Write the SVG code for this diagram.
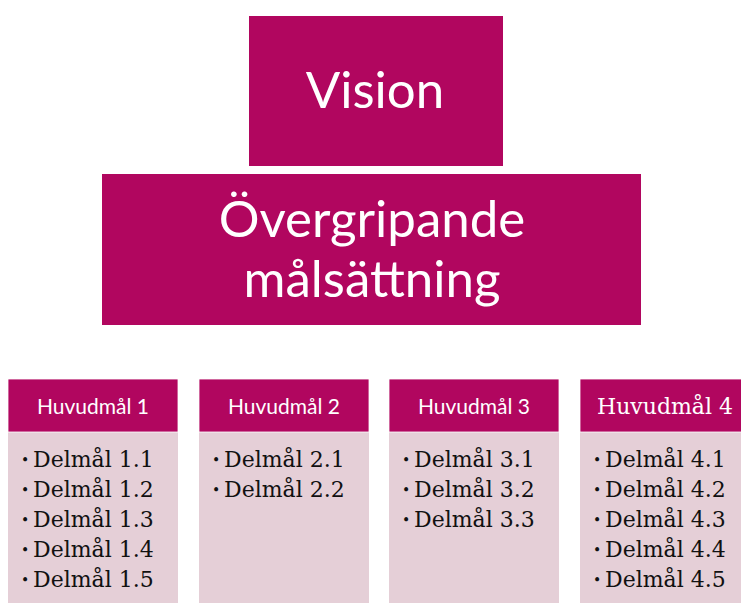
<svg xmlns="http://www.w3.org/2000/svg" width="741" height="603" viewBox="0 0 741 603">
<style>
.top{fill:#B1065F}
.hd{fill:#B1065F;stroke:#ffffff;stroke-width:0.8}
.bd{fill:#E5CFD7}
.big{font-family:Lato,"Open Sans",sans-serif;font-size:51px;fill:#ffffff;text-anchor:middle}
.ht{font-family:Lato,"Open Sans",sans-serif;font-size:21px;fill:#ffffff;text-anchor:middle}
.hs{font-family:"DejaVu Serif",serif;font-size:22px;fill:#ffffff;text-anchor:middle}
.it{font-family:"DejaVu Serif",serif;font-size:22px;fill:#111111}
.bu{font-family:"DejaVu Serif",serif;font-size:14px;fill:#111111}
</style>
<rect width="741" height="603" fill="#ffffff"/>
<g id="vision">
<rect class="top" x="249" y="16" width="254" height="150"/>
<text class="big" x="375" y="108">Vision</text>
</g>
<g id="overgripande">
<rect class="top" x="102" y="174" width="539" height="151"/>
<text class="big" x="372" y="237">Övergripande</text>
<text class="big" x="372" y="297">målsättning</text>
</g>
<g id="connectors"></g>
<g id="huvudmal1">
<rect class="bd" x="8" y="432" width="170" height="171"/>
<rect class="hd" x="8" y="379" width="170" height="53"/>
<text class="ht" x="93" y="414">Huvudmål 1</text>
<text class="bu" x="21" y="465">•</text><text class="it" x="33" y="467">Delmål 1.1</text>
<text class="bu" x="21" y="495">•</text><text class="it" x="33" y="497">Delmål 1.2</text>
<text class="bu" x="21" y="525">•</text><text class="it" x="33" y="527">Delmål 1.3</text>
<text class="bu" x="21" y="555">•</text><text class="it" x="33" y="557">Delmål 1.4</text>
<text class="bu" x="21" y="585">•</text><text class="it" x="33" y="587">Delmål 1.5</text>
</g>
<g id="huvudmal2">
<rect class="bd" x="199" y="432" width="170" height="171"/>
<rect class="hd" x="199" y="379" width="170" height="53"/>
<text class="ht" x="284" y="414">Huvudmål 2</text>
<text class="bu" x="212" y="465">•</text><text class="it" x="224" y="467">Delmål 2.1</text>
<text class="bu" x="212" y="495">•</text><text class="it" x="224" y="497">Delmål 2.2</text>
</g>
<g id="huvudmal3">
<rect class="bd" x="389" y="432" width="170" height="171"/>
<rect class="hd" x="389" y="379" width="170" height="53"/>
<text class="ht" x="474" y="414">Huvudmål 3</text>
<text class="bu" x="402" y="465">•</text><text class="it" x="414" y="467">Delmål 3.1</text>
<text class="bu" x="402" y="495">•</text><text class="it" x="414" y="497">Delmål 3.2</text>
<text class="bu" x="402" y="525">•</text><text class="it" x="414" y="527">Delmål 3.3</text>
</g>
<g id="huvudmal4">
<rect class="bd" x="580" y="432" width="170" height="171"/>
<rect class="hd" x="580" y="379" width="170" height="53"/>
<text class="hs" x="665" y="414">Huvudmål 4</text>
<text class="bu" x="593" y="465">•</text><text class="it" x="605" y="467">Delmål 4.1</text>
<text class="bu" x="593" y="495">•</text><text class="it" x="605" y="497">Delmål 4.2</text>
<text class="bu" x="593" y="525">•</text><text class="it" x="605" y="527">Delmål 4.3</text>
<text class="bu" x="593" y="555">•</text><text class="it" x="605" y="557">Delmål 4.4</text>
<text class="bu" x="593" y="585">•</text><text class="it" x="605" y="587">Delmål 4.5</text>
</g>
</svg>
